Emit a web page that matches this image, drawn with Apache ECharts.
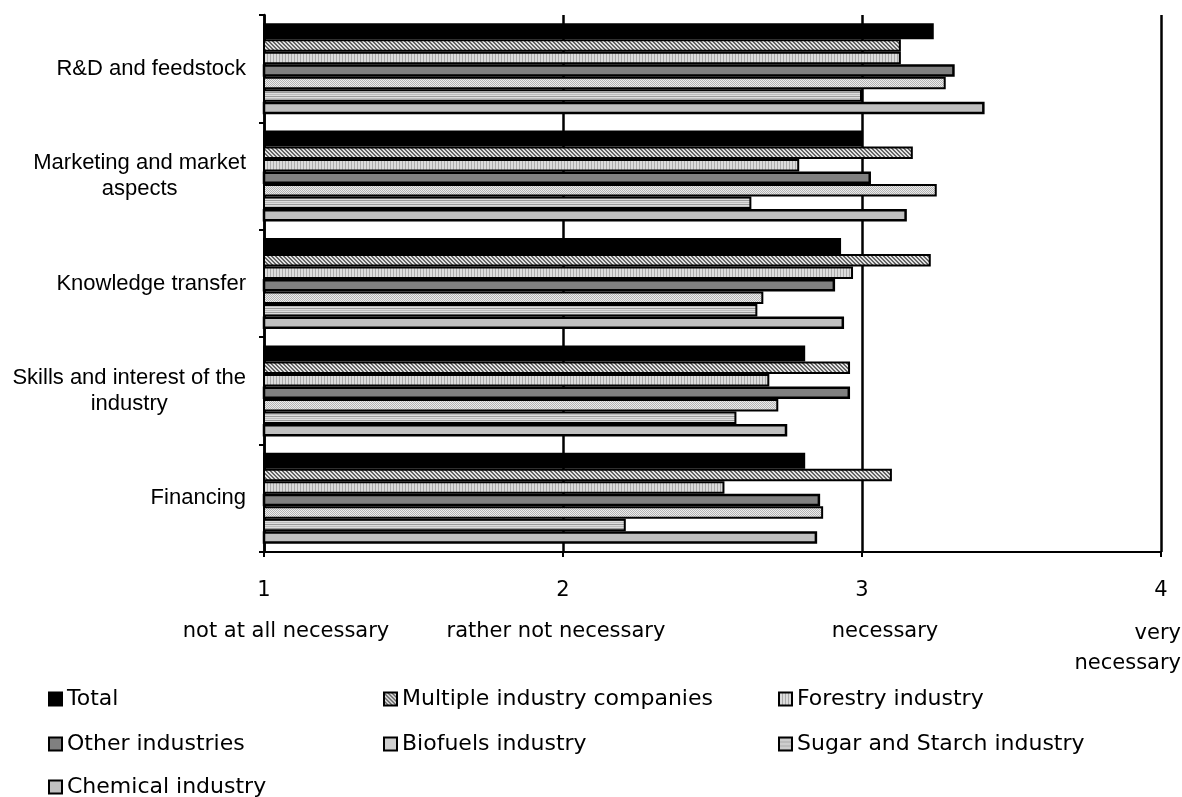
<!DOCTYPE html>
<html>
<head>
<meta charset="utf-8">
<title>Necessity of support measures by industry</title>
<script src="https://cdn.jsdelivr.net/npm/echarts@6/dist/echarts.min.js"></script>
<style>
  html, body { margin: 0; padding: 0; background: #fff; }
  #chart { width: 1182px; height: 797px; }
</style>
</head>
<body>
<div id="chart"></div>
<script>
// Support areas (rows) and the mean rating per industry group (1 = not at all necessary … 4 = very necessary)
const categories = [
  'R&D and feedstock',
  'Marketing and market\naspects',
  'Knowledge transfer',
  'Skills and interest of the\nindustry',
  'Financing'
];
const seriesNames = [
  'Total',
  'Multiple industry companies',
  'Forestry industry',
  'Other industries',
  'Biofuels industry',
  'Sugar and Starch industry',
  'Chemical industry'
];
const total     = [3.24, 3.00, 2.93, 2.81, 2.81];
const multiple  = [3.13, 3.17, 3.23, 2.96, 3.10];
const forestry  = [3.13, 2.79, 2.97, 2.69, 2.54];
const other     = [3.31, 3.03, 2.91, 2.96, 2.86];
const biofuels  = [3.28, 3.25, 2.67, 2.72, 2.87];
const sugar     = [3.00, 2.63, 2.65, 2.58, 2.21];
const chemical  = [3.41, 3.15, 2.94, 2.75, 2.85];
const scaleTicks = ['1', '2', '3', '4'];
const scaleWords = ['not at all necessary', 'rather not necessary', 'necessary', 'very\nnecessary'];

// Small repeating fills for the monochrome bars
function makePattern(w, h, paint) {
  const c = document.createElement('canvas');
  c.width = w; c.height = h;
  const g = c.getContext('2d');
  paint(g, w, h);
  return { image: c, repeat: 'repeat' };
}
const hatchDiag = makePattern(4, 4, (g, w, h) => {
  g.fillStyle = '#e2e2e2'; g.fillRect(0, 0, w, h);
  g.fillStyle = '#646464';
  for (let i = 0; i < 4; i++) { g.fillRect(i, i % 4, 1, 1); g.fillRect(i, (i + 1) % 4, 1, 1); }
});
const vertLines = makePattern(3, 3, (g, w, h) => {
  g.fillStyle = '#dcdcdc'; g.fillRect(0, 0, w, h);
  g.fillStyle = '#ababab'; g.fillRect(0, 0, 1, h);
});
const dotted = makePattern(2, 2, (g, w, h) => {
  g.fillStyle = '#ececec'; g.fillRect(0, 0, w, h);
  g.fillStyle = '#b4b4b4'; g.fillRect(0, 0, 1, 1); g.fillRect(1, 1, 1, 1);
});
const horizLines = makePattern(4, 4, (g, w, h) => {
  g.fillStyle = '#dedede'; g.fillRect(0, 0, w, h);
  g.fillStyle = '#9a9a9a'; g.fillRect(0, 0, w, 1);
  g.fillStyle = '#bdbdbd'; g.fillRect(0, 2, w, 1);
});

const fills = ['#000000', hatchDiag, vertLines, '#808080', dotted, horizLines, '#c0c0c0'];
const values = [total, multiple, forestry, other, biofuels, sugar, chemical];
const widths = [16, 12.5, 12.5, 12.5, 12.5, 12.5, 12.5];

const chart = echarts.init(document.getElementById('chart'), null, { renderer: 'canvas' });

const series = seriesNames.map((name, i) => ({
  name: name,
  type: 'bar',
  data: values[i],
  barWidth: widths[i],
  barGap: '0%',
  itemStyle: {
    color: fills[i],
    borderColor: '#000',
    borderWidth: (i === 3 || i === 6) ? 2.5 : 2
  },
  emphasis: { disabled: true },
  animation: false
}));

// Legend laid out as a 3-column grid, filled row by row
const legendCols = [48, 383, 778];
const legendRows = [688, 733, 776];
const legends = seriesNames.map((name, i) => ({
  left: legendCols[i % 3],
  top: legendRows[Math.floor(i / 3)],
  padding: 0,
  itemWidth: 13,
  itemHeight: 13,
  itemGap: 0,
  icon: 'rect',
  selectedMode: false,
  data: [name],
  textStyle: { fontFamily: 'DejaVu Sans', fontSize: 22, color: '#000', padding: [0, 0, 0, 0] }
}));

const wordFont = '21px "DejaVu Sans"';

chart.setOption({
  animation: false,
  backgroundColor: '#fff',
  grid: { left: 264, right: 21, top: 15, bottom: 245, containLabel: false },
  xAxis: {
    type: 'value',
    min: 1,
    max: 4,
    interval: 1,
    axisLine: { show: true, lineStyle: { color: '#000', width: 2 } },
    axisTick: { show: true, length: 5, lineStyle: { color: '#000', width: 2 } },
    axisLabel: {
      margin: 28,
      fontFamily: 'DejaVu Sans',
      fontSize: 21,
      color: '#000',
      formatter: (v) => scaleTicks[Math.round(v) - 1] || ''
    },
    splitLine: { show: true, lineStyle: { color: '#000', width: 2.5 } }
  },
  yAxis: {
    type: 'category',
    inverse: true,
    data: categories,
    axisLine: { show: true, lineStyle: { color: '#000', width: 2.5 } },
    axisTick: { show: true, length: 5, lineStyle: { color: '#000', width: 2 } },
    axisLabel: {
      margin: 18,
      fontFamily: 'Liberation Sans',
      fontSize: 22,
      color: '#000',
      lineHeight: 26,
      formatter: (v) => v.split('\n').map(s => '{c|' + s + '}').join('\n'),
      rich: { c: { align: 'center', fontFamily: 'Liberation Sans', fontSize: 22, lineHeight: 26, color: '#000' } }
    }
  },
  legend: legends,
  graphic: [
    { type: 'text', x: 286, y: 621, style: { text: scaleWords[0], font: wordFont, fill: '#000', align: 'center' } },
    { type: 'text', x: 556, y: 621, style: { text: scaleWords[1], font: wordFont, fill: '#000', align: 'center' } },
    { type: 'text', x: 885, y: 621, style: { text: scaleWords[2], font: wordFont, fill: '#000', align: 'center' } },
    { type: 'text', x: 1181, y: 619, style: { text: scaleWords[3], font: wordFont, fill: '#000', align: 'right', lineHeight: 30 } }
  ],
  series: series
});
</script>
</body>
</html>
